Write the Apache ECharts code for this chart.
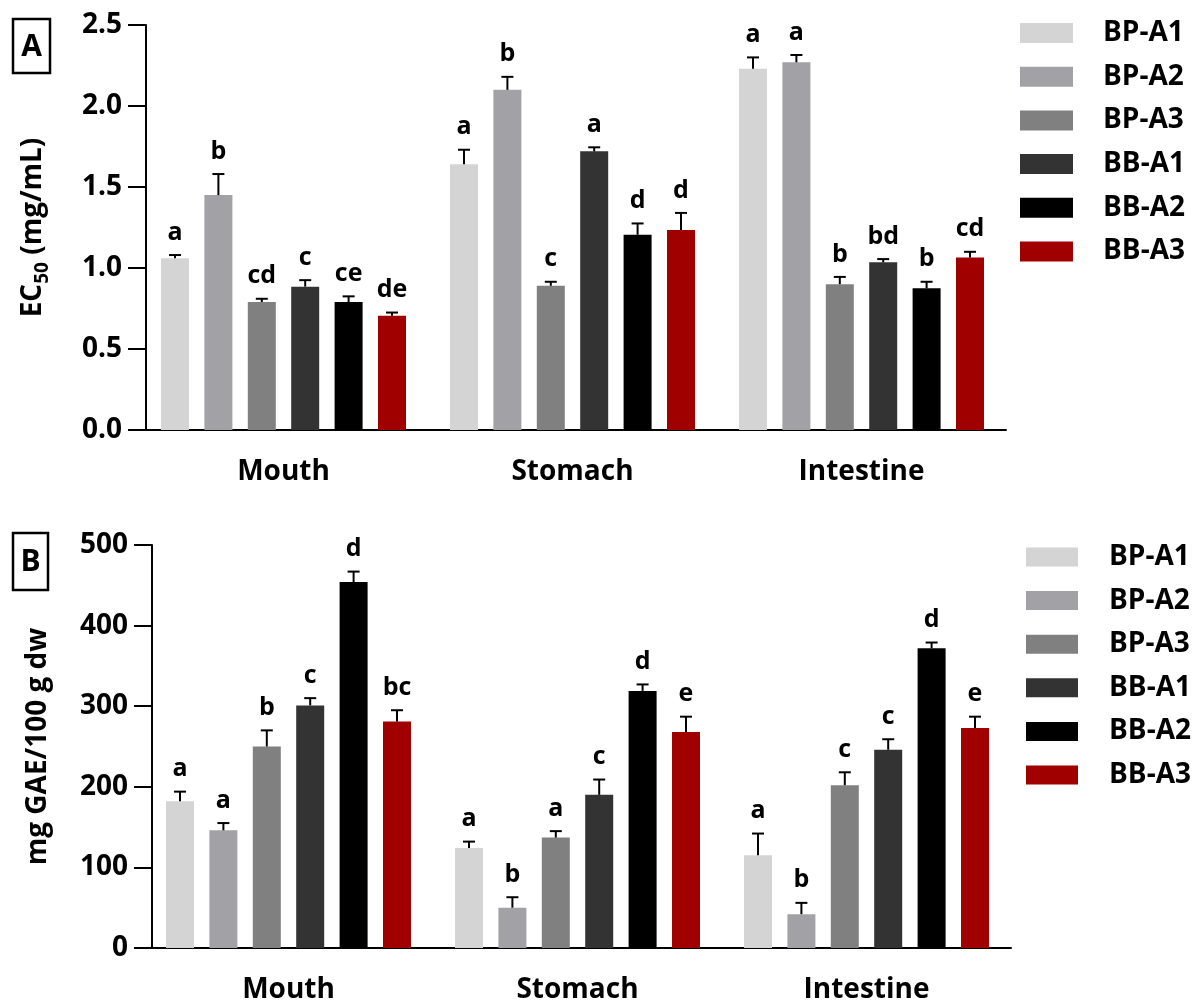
<!DOCTYPE html>
<html><head><meta charset="utf-8">
<script src="https://cdn.jsdelivr.net/npm/echarts@6/dist/echarts.min.js"></script>
<style>html,body{margin:0;padding:0;background:#fff}#c{width:1192px;height:1005px}</style>
</head><body><div id="c"></div><script>
const categories = ['Mouth', 'Stomach', 'Intestine'];
const seriesNames = ['BP-A1', 'BP-A2', 'BP-A3', 'BB-A1', 'BB-A2', 'BB-A3'];
const seriesColors = ['#d4d4d4', '#a2a2a6', '#808080', '#333333', '#000000', '#a00000'];

// Panel A: EC50 (mg/mL)
const yTicksA = [0, 0.5, 1.0, 1.5, 2.0, 2.5];
const ec50_BPA1 = [1.06, 1.64, 2.23];  const ec50Err_BPA1 = [0.02, 0.09, 0.07];  const ec50Sig_BPA1 = ['a', 'a', 'a'];
const ec50_BPA2 = [1.45, 2.10, 2.27];  const ec50Err_BPA2 = [0.13, 0.08, 0.045]; const ec50Sig_BPA2 = ['b', 'b', 'a'];
const ec50_BPA3 = [0.79, 0.89, 0.90];  const ec50Err_BPA3 = [0.02, 0.025, 0.045]; const ec50Sig_BPA3 = ['cd', 'c', 'b'];
const ec50_BBA1 = [0.885, 1.72, 1.035]; const ec50Err_BBA1 = [0.04, 0.025, 0.02]; const ec50Sig_BBA1 = ['c', 'a', 'bd'];
const ec50_BBA2 = [0.79, 1.205, 0.875]; const ec50Err_BBA2 = [0.035, 0.07, 0.04]; const ec50Sig_BBA2 = ['ce', 'd', 'b'];
const ec50_BBA3 = [0.705, 1.235, 1.065]; const ec50Err_BBA3 = [0.02, 0.105, 0.035]; const ec50Sig_BBA3 = ['de', 'd', 'cd'];

// Panel B: mg GAE/100 g dw
const yTicksB = [0, 100, 200, 300, 400, 500];
const tpc_BPA1 = [182, 124, 115]; const tpcErr_BPA1 = [12, 8, 27];  const tpcSig_BPA1 = ['a', 'a', 'a'];
const tpc_BPA2 = [146, 50, 42];   const tpcErr_BPA2 = [9, 13, 14];  const tpcSig_BPA2 = ['a', 'b', 'b'];
const tpc_BPA3 = [250, 137, 202]; const tpcErr_BPA3 = [20, 8, 16];  const tpcSig_BPA3 = ['b', 'a', 'c'];
const tpc_BBA1 = [301, 190, 246]; const tpcErr_BBA1 = [9, 19, 13];  const tpcSig_BBA1 = ['c', 'c', 'c'];
const tpc_BBA2 = [454, 319, 372]; const tpcErr_BBA2 = [13, 8, 7];   const tpcSig_BBA2 = ['d', 'd', 'd'];
const tpc_BBA3 = [281, 268, 273]; const tpcErr_BBA3 = [14, 19, 14]; const tpcSig_BBA3 = ['bc', 'e', 'e'];

const FONT = '"Open Sans", "Liberation Sans", sans-serif';
const BAR_W = 28, BAR_GAP = 15.4, PITCH = BAR_W + BAR_GAP;

const panels = [
  { means: [ec50_BPA1, ec50_BPA2, ec50_BPA3, ec50_BBA1, ec50_BBA2, ec50_BBA3],
    errs: [ec50Err_BPA1, ec50Err_BPA2, ec50Err_BPA3, ec50Err_BBA1, ec50Err_BBA2, ec50Err_BBA3],
    sigs: [ec50Sig_BPA1, ec50Sig_BPA2, ec50Sig_BPA3, ec50Sig_BBA1, ec50Sig_BBA2, ec50Sig_BBA3] },
  { means: [tpc_BPA1, tpc_BPA2, tpc_BPA3, tpc_BBA1, tpc_BBA2, tpc_BBA3],
    errs: [tpcErr_BPA1, tpcErr_BPA2, tpcErr_BPA3, tpcErr_BBA1, tpcErr_BBA2, tpcErr_BBA3],
    sigs: [tpcSig_BPA1, tpcSig_BPA2, tpcSig_BPA3, tpcSig_BBA1, tpcSig_BBA2, tpcSig_BBA3] }
];

const series = [];
panels.forEach((p, g) => {
  seriesNames.forEach((name, si) => {
    series.push({
      type: 'bar', name: name, xAxisIndex: g, yAxisIndex: g,
      data: p.means[si], barWidth: BAR_W, barGap: (BAR_GAP / BAR_W * 100) + '%',
      itemStyle: { color: seriesColors[si] }, silent: true
    });
  });
});
panels.forEach((p, g) => {
  seriesNames.forEach((name, si) => {
    const sigs = p.sigs[si];
    series.push({
      type: 'custom', name: 'err-' + name, xAxisIndex: g, yAxisIndex: g, z: 5, silent: true,
      data: p.means[si].map((m, i) => [i, m, m + p.errs[si][i]]),
      encode: { x: 0, y: [1, 2] },
      renderItem: (params, api) => {
        const i = api.value(0);
        const b = api.coord([i, api.value(1)]);
        const t = api.coord([i, api.value(2)]);
        const x = b[0] + (si - 2.5) * PITCH;
        return { type: 'group', children: [
          { type: 'line', shape: { x1: x, y1: b[1], x2: x, y2: t[1] }, style: { stroke: '#000', lineWidth: 2 } },
          { type: 'line', shape: { x1: x - 6, y1: t[1], x2: x + 6, y2: t[1] }, style: { stroke: '#000', lineWidth: 2 } },
          { type: 'text', x: x, y: t[1] - 10, style: { text: sigs[params.dataIndex], fontSize: 25, fontWeight: 'bold', fontFamily: FONT, fill: '#000', align: 'center', verticalAlign: 'bottom' } }
        ] };
      }
    });
  });
});

const axisLineStyle = { color: '#000', width: 2 };
function xAxis(g) {
  return {
    type: 'category', gridIndex: g, data: categories,
    axisLine: { lineStyle: axisLineStyle },
    axisTick: { alignWithLabel: true, length: 18, lineStyle: axisLineStyle },
    axisLabel: { fontSize: 28, fontWeight: 'bold', fontFamily: FONT, color: '#000', margin: 28 },
    splitLine: { show: false }
  };
}
function yAxis(g, ticks, name, gap, offset, fmt) {
  return {
    type: 'value', gridIndex: g, min: ticks[0], max: ticks[ticks.length - 1], interval: ticks[1] - ticks[0],
    offset: offset,
    name: name, nameLocation: 'middle', nameGap: gap, nameRotate: 90,
    nameTextStyle: { fontSize: 28, fontWeight: 'bold', fontFamily: FONT, color: '#000',
      rich: {
        a: { fontSize: 28, fontWeight: 'bold', fontFamily: FONT, color: '#000' },
        s: { fontSize: 19, fontWeight: 'bold', fontFamily: FONT, color: '#000', padding: [18, 0, 0, 0] }
      } },
    axisLine: { show: true, lineStyle: axisLineStyle },
    axisTick: { show: true, inside: false, length: 18, lineStyle: axisLineStyle },
    axisLabel: { fontSize: 28, fontWeight: 'bold', fontFamily: FONT, color: '#000', margin: 24, formatter: fmt },
    splitLine: { show: false }
  };
}
function legend(left, top, iw, ih, gap, pad) {
  return {
    orient: 'vertical', left: left, top: top, itemWidth: iw, itemHeight: ih, itemGap: gap, padding: 0,
    icon: 'rect', data: seriesNames, selectedMode: false,
    textStyle: { fontSize: 28, fontWeight: 'bold', fontFamily: FONT, color: '#000', padding: [0, 0, 0, pad] }
  };
}

const option = {
  animation: false,
  backgroundColor: '#fff',
  grid: [
    { left: 139, top: 25, width: 867, height: 405, outerBoundsMode: 'none', containLabel: false },
    { left: 144, top: 545, width: 867, height: 403, outerBoundsMode: 'none', containLabel: false }
  ],
  xAxis: [xAxis(0), xAxis(1)],
  yAxis: [
    yAxis(0, yTicksA, '{a|EC}{s|50}{a| (mg/mL)}', 94, -7, v => v.toFixed(1)),
    yAxis(1, yTicksB, 'mg GAE/100 g dw', 100, -8, v => String(v))
  ],
  legend: [legend(1020, 19, 53, 20, 15.7, 25), legend(1026, 543, 52, 19, 15.6, 26)],
  graphic: [
    { type: 'rect', shape: { x: 13, y: 19, width: 37, height: 54 }, style: { fill: 'none', stroke: '#000', lineWidth: 2.5 } },
    { type: 'text', x: 31.5, y: 47, style: { text: 'A', font: 'bold 30px "Open Sans"', fill: '#000', align: 'center', verticalAlign: 'middle' } },
    { type: 'rect', shape: { x: 13, y: 533, width: 35, height: 57 }, style: { fill: 'none', stroke: '#000', lineWidth: 2.5 } },
    { type: 'text', x: 30.5, y: 562, style: { text: 'B', font: 'bold 30px "Open Sans"', fill: '#000', align: 'center', verticalAlign: 'middle' } }
  ],
  series: series
};
echarts.init(document.getElementById('c')).setOption(option);
</script></body></html>
